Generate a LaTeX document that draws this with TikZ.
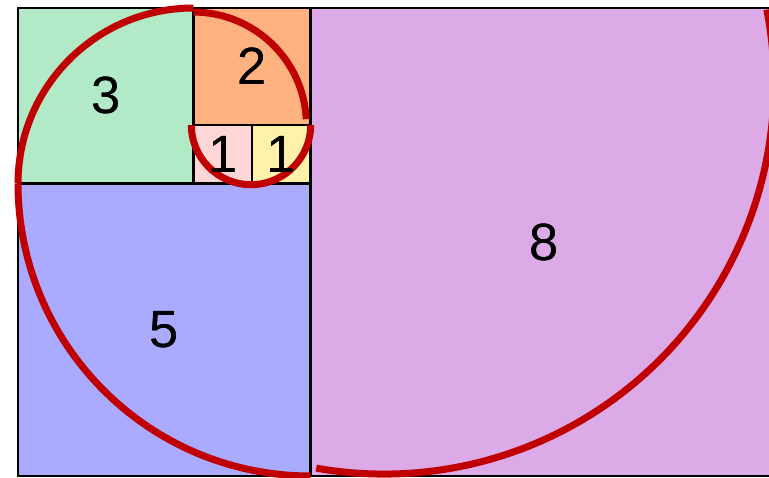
\documentclass[tikz,border=0pt]{standalone}
\usepackage{fontspec}
\setmainfont{Liberation Sans}
\definecolor{sqgreen}{RGB}{178,234,200}
\definecolor{sqorange}{RGB}{255,178,128}
\definecolor{sqpink}{RGB}{255,214,214}
\definecolor{sqyellow}{RGB}{255,240,170}
\definecolor{sqblue}{RGB}{170,170,255}
\definecolor{sqpurple}{RGB}{220,170,230}
\definecolor{spiralred}{RGB}{192,0,0}
\begin{document}
\begin{tikzpicture}
    \tikzset{
        square/.style={draw=black, line width=1.2pt},
        label/.style={font=\fontsize{25.5}{30}\selectfont, inner sep=0pt},
        spiral/.style={draw=spiralred, line width=3.4pt}
    }
    \useasboundingbox (-0.308,-0.034) rectangle (12.838,8.137);
    \clip (-0.308,-0.034) rectangle (12.838,8.137);

    % squares: x/y/side/colour/name
    \foreach \x/\y/\s/\c/\n in {%
        0/0/5/sqblue/five, 0/5/3/sqgreen/three, 3/6/2/sqorange/two,%
        3/5/1/sqpink/onea, 4/5/1/sqyellow/oneb, 5/0/8/sqpurple/eight%
    }{
    \filldraw[square, fill=\c] (\x,\y) rectangle ++(\s,\s);
    \node[label] (\n) at (\x+\s/2,\y+\s/2) {\s};
    }

    % spiral: centre/radius/start/end
    \foreach \cx/\cy/\r/\a/\b in {%
        3.983/6/1.02/180/360, 3/6/1.93/3/90, 3/5/3.0/90/180,%
        5/5/5/180/270, 6.256/6.70/6.667/260/371%
    }{
    \draw[spiral] (\cx,\cy) ++(\a:\r) arc[start angle=\a, end angle=\b, radius=\r];
    }

    % labels on top
    \foreach \n/\s in {five/5, three/3, two/2, onea/1, oneb/1, eight/8}{
    \node[label] at (\n) {\s};
    }
\end{tikzpicture}
\end{document}
